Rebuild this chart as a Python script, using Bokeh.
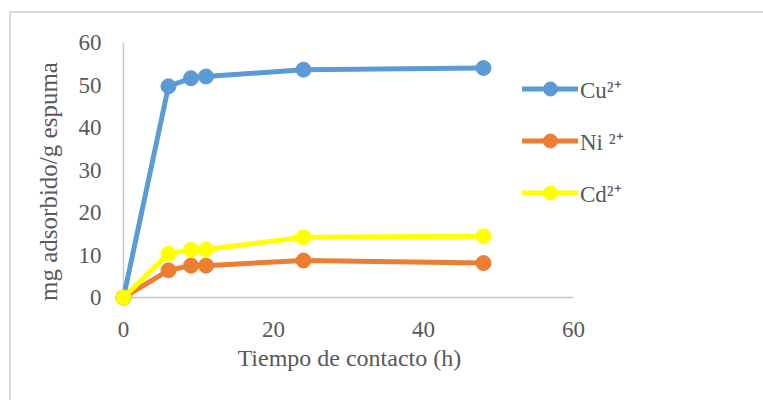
from bokeh.plotting import figure
from bokeh.models import Range1d, Legend, LegendItem, FixedTicker, Title
from bokeh.embed import file_html
from bokeh.resources import INLINE

# Contact time (h) and adsorbed amount (mg metal / g foam)
tiempo = [0, 6, 9, 11, 24, 48]
cu = [0, 49.7, 51.6, 52.0, 53.6, 54.0]
ni = [0, 6.4, 7.5, 7.5, 8.7, 8.1]
cd = [0, 10.3, 11.2, 11.3, 14.2, 14.4]

series_labels = ["Cu\u00b2\u207a", "Ni \u00b2\u207a", "Cd\u00b2\u207a"]
series_colors = ["#5B9BD5", "#ED7D31", "#FFFF00"]

x_ticks = [0, 20, 40, 60]
y_ticks = [0, 10, 20, 30, 40, 50, 60]

FONT = "Liberation Serif"
TEXT = "#595959"
AXIS = "#C8C8C8"
FRAME = "#D9D9D9"

# light chart-area frame painted behind a transparent canvas
chart_bg = (
    f"linear-gradient({FRAME},{FRAME}) 9px 11px / 2px 500px no-repeat, "
    f"linear-gradient({FRAME},{FRAME}) 9px 11px / 900px 2px no-repeat, white"
)

p = figure(
    width=763, height=400,
    x_range=Range1d(-1.2, 84), y_range=Range1d(-5.41, 60),
    output_backend="svg", toolbar_location=None,
    min_border_left=114, min_border_right=10,
    min_border_top=42, min_border_bottom=80,
    styles={"background": chart_bg},
)
p.outline_line_color = None
p.grid.visible = False
p.background_fill_color = None
p.border_fill_color = None

# axis lines drawn at x=0 and y=0
p.line([0, 60], [0, 0], line_color=AXIS, line_width=1.5)
p.line([0, 0], [0, 60], line_color=AXIS, line_width=1.5)

for ax in (p.xaxis[0], p.yaxis[0]):
    ax.axis_line_color = None
    ax.major_tick_line_color = None
    ax.minor_tick_line_color = None
    ax.major_label_text_font = FONT
    ax.major_label_text_font_size = "23px"
    ax.major_label_text_color = TEXT
    ax.axis_label_text_font = FONT
    ax.axis_label_text_font_size = "25px"
    ax.axis_label_text_color = TEXT
    ax.axis_label_text_font_style = "normal"

p.xaxis.ticker = FixedTicker(ticks=x_ticks)
p.yaxis.ticker = FixedTicker(ticks=y_ticks)
p.yaxis.axis_label = "mg adsorbido/g espuma"
p.xaxis.major_label_standoff = -5
p.yaxis.major_label_standoff = 7
p.yaxis.axis_label_standoff = 14

p.add_layout(Title(
    text="Tiempo de contacto (h)", align="left", offset=123, standoff=6,
    text_font=FONT, text_font_size="24px", text_color=TEXT,
    text_font_style="normal",
), "below")

items = []
for vals, lab, col in zip([cu, ni, cd], series_labels, series_colors):
    ln = p.line(tiempo, vals, line_color=col, line_width=5,
                line_join="round", line_cap="round")
    sc = p.scatter(tiempo, vals, size=15, fill_color=col, line_color=col)
    items.append(LegendItem(label=lab, renderers=[ln, sc]))

legend = Legend(
    items=items, location=(408, 110), orientation="vertical",
    glyph_width=56, glyph_height=35, label_height=35,
    label_standoff=2, spacing=17, padding=0, margin=0,
    label_text_font=FONT, label_text_font_size="23px",
    label_text_color=TEXT, border_line_color=None,
    background_fill_alpha=0,
)
p.add_layout(legend, "center")

open("out.html", "w").write(file_html(p, INLINE))
